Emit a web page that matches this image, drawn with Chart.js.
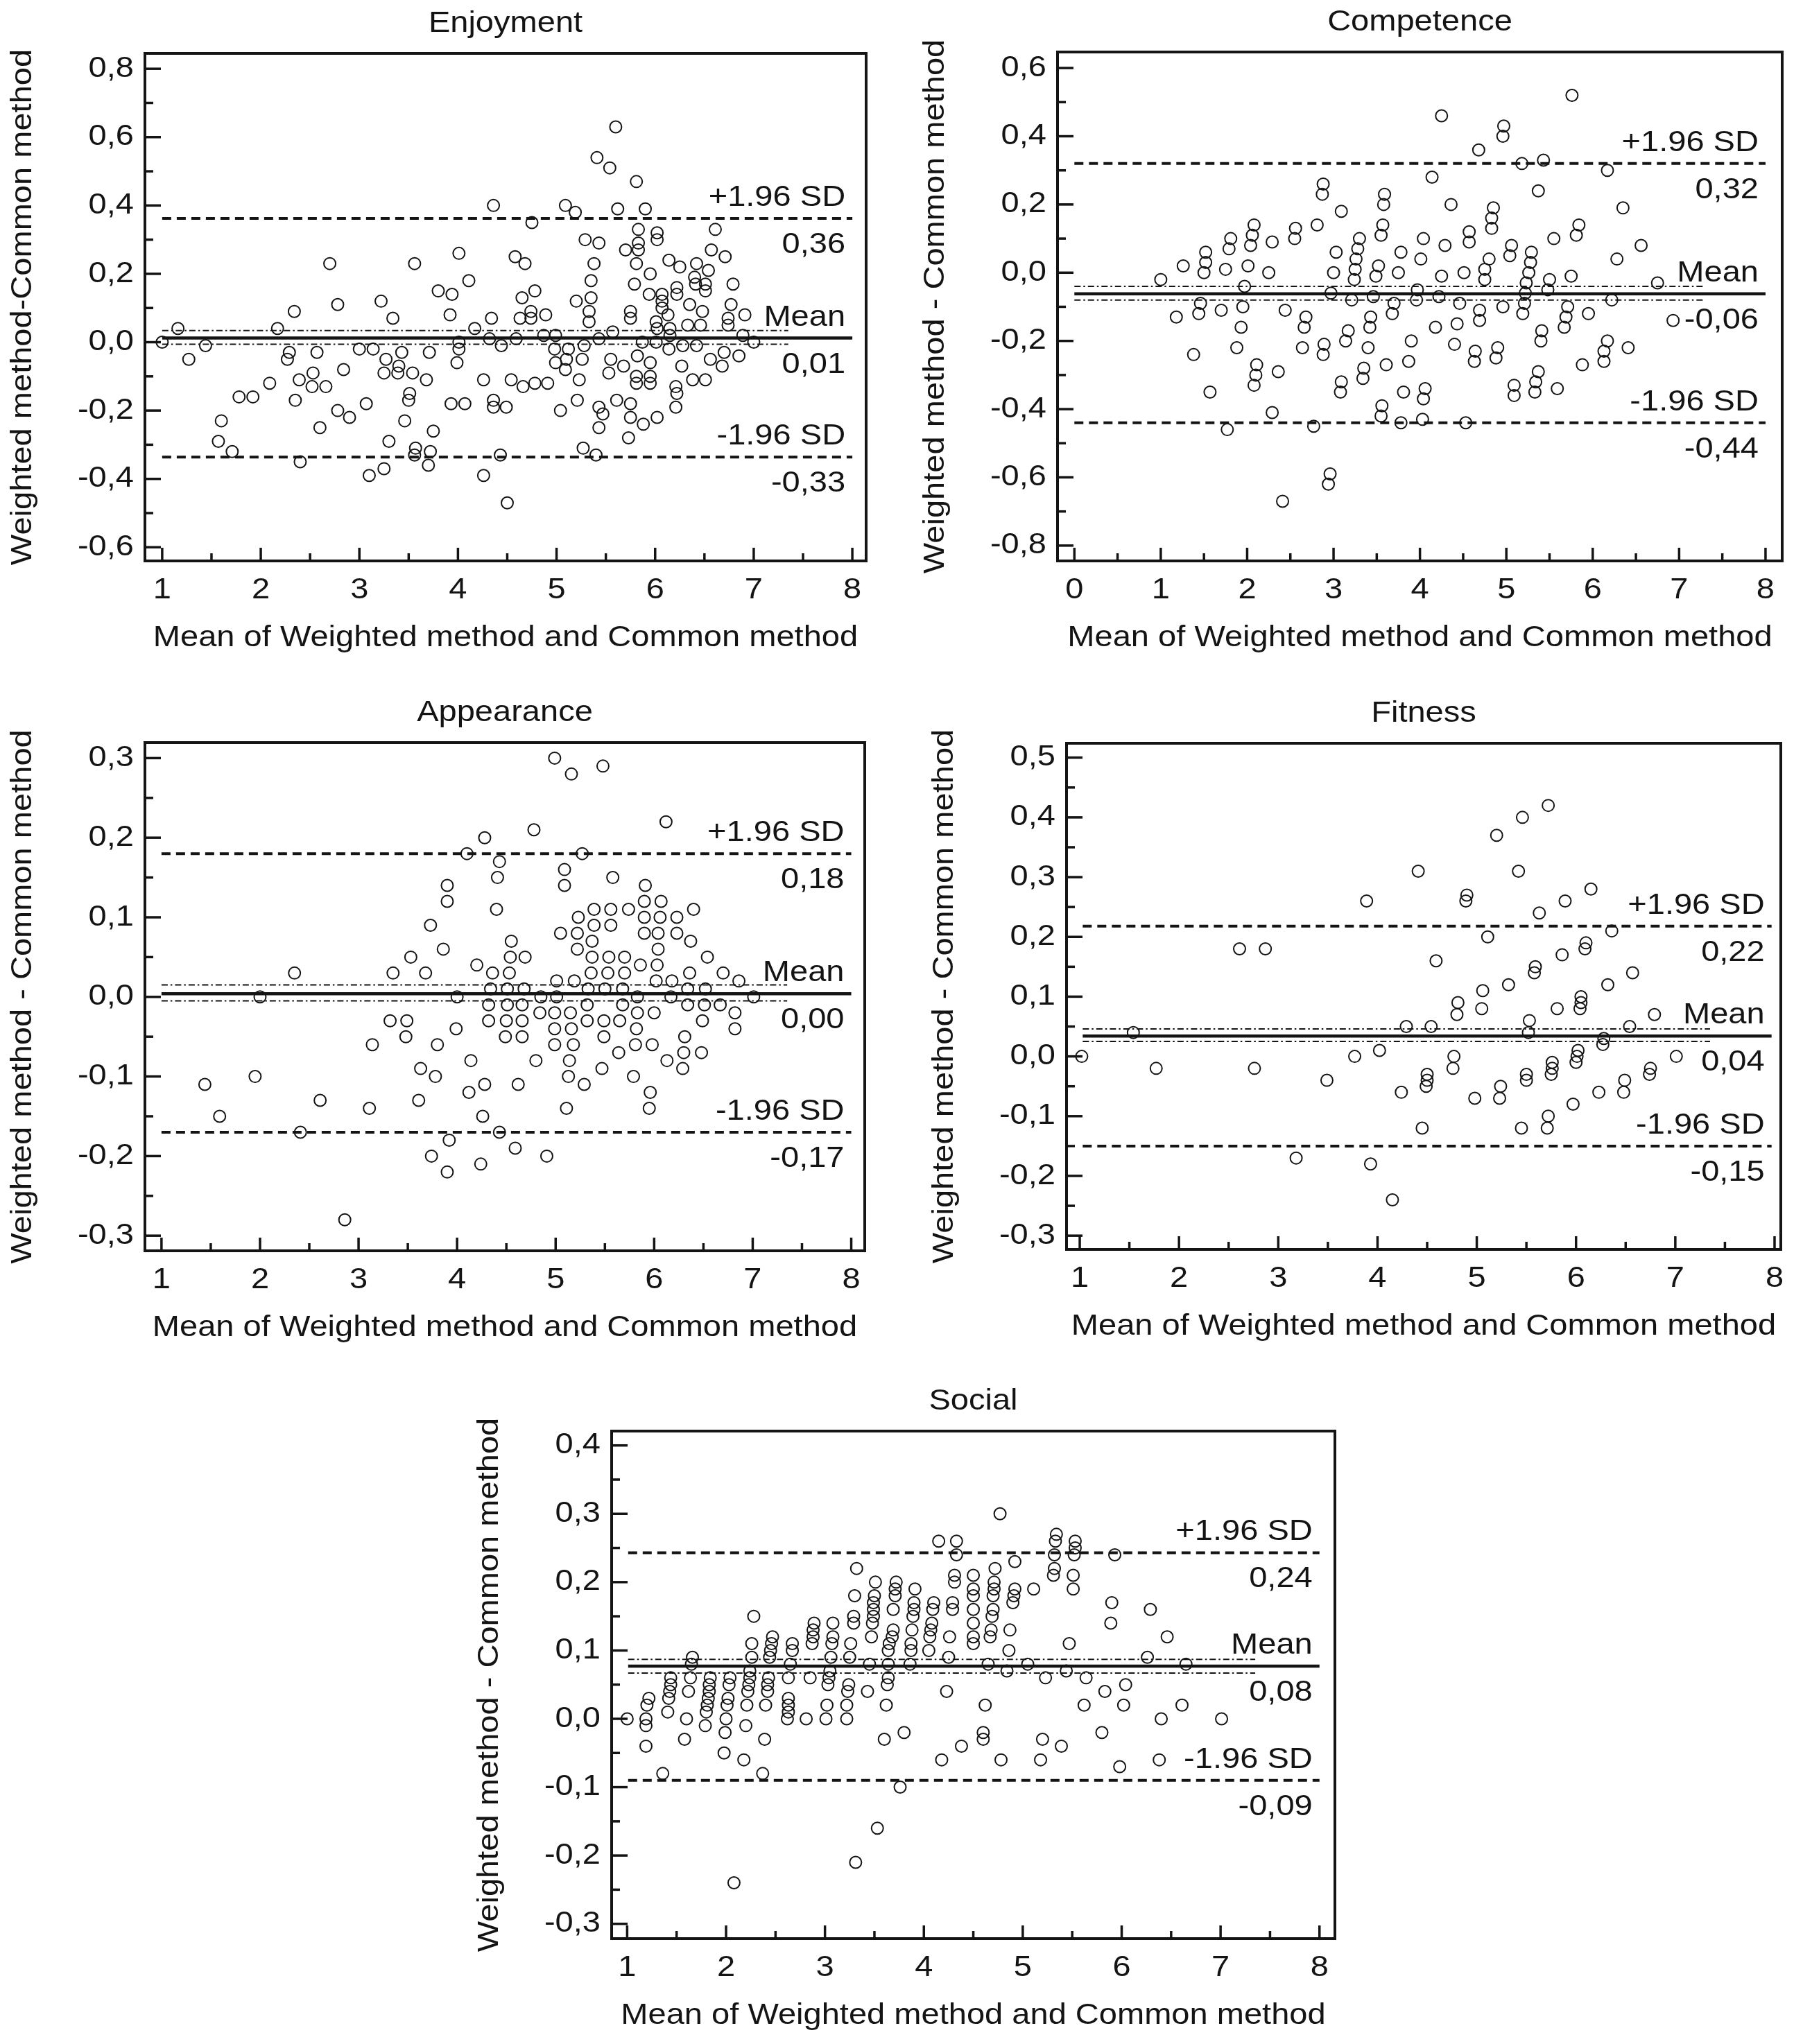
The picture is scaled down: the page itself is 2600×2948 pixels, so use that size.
<!DOCTYPE html>
<html>
<head>
<meta charset="utf-8">
<script src="https://cdn.jsdelivr.net/npm/chart.js@4.4.0/dist/chart.umd.min.js"></script>
<style>
  body { margin: 0; background: #fff; width: 2600px; height: 2948px; position: relative; overflow: hidden; }
  canvas { position: absolute; }
</style>
</head>
<body>
<canvas id="enjoyment"></canvas>
<canvas id="competence"></canvas>
<canvas id="appearance"></canvas>
<canvas id="fitness"></canvas>
<canvas id="social"></canvas>
<script>
// ---- data: x = mean of both methods, y = difference ----
const enjoymentMean = [1.00,1.16,1.27,1.44,1.60,1.57,1.71,1.78,1.92,2.09,2.17,2.27,2.29,2.34,2.39,2.35,2.40,2.53,2.52,2.57,2.60,2.66,2.70,2.78,2.78,2.84,2.90,3.00,3.07,3.10,3.14,3.22,3.25,3.25,3.27,3.30,3.34,3.39,3.40,3.43,3.46,3.51,3.50,3.54,3.56,3.57,3.56,3.68,3.71,3.75,3.72,3.70,3.80,3.92,3.94,3.93,3.99,4.01,4.01,4.01,4.07,4.11,4.17,4.26,4.26,4.32,4.34,4.36,4.36,4.36,4.43,4.44,4.49,4.50,4.54,4.58,4.59,4.63,4.65,4.66,4.68,
  4.75,4.78,4.74,4.74,4.89,4.78,4.91,4.87,4.99,4.98,4.99,5.09,5.19,5.12,5.10,5.09,5.04,5.20,5.26,5.23,5.21,5.28,5.29,5.27,5.35,5.33,5.33,5.35,5.38,5.41,5.43,5.43,5.43,5.47,5.43,5.40,5.54,5.60,5.62,5.57,5.55,5.53,5.68,5.61,5.70,5.75,5.75,5.75,5.75,5.81,5.83,5.83,5.83,5.81,5.79,5.82,5.81,5.81,5.73,5.88,5.90,5.95,5.94,5.95,5.95,5.95,5.87,6.02,6.02,6.01,6.02,6.01,6.02,6.07,6.07,6.07,6.14,6.13,6.15,6.15,6.14,6.22,6.22,6.25,6.21,6.22,6.21,6.27,6.28,6.33,6.35,6.40,6.41,6.42,6.38,6.42,6.46,6.48,6.51,6.51,6.54,6.57,6.61,6.51,6.56,6.68,6.70,6.71,6.74,6.74,6.77,6.79,6.85,6.89,6.91,7.00];
const enjoymentDiff = [0.00,0.04,-0.05,-0.01,-0.23,-0.29,-0.32,-0.16,-0.16,-0.12,0.04,-0.05,-0.03,0.09,-0.11,-0.17,-0.35,-0.09,-0.13,-0.03,-0.25,-0.13,0.23,-0.20,0.11,-0.08,-0.22,-0.02,-0.18,-0.39,-0.02,0.12,-0.09,-0.37,-0.05,-0.29,0.07,-0.09,-0.07,-0.03,-0.23,-0.15,-0.17,-0.09,0.23,-0.31,-0.33,-0.11,-0.03,-0.26,-0.32,-0.36,0.15,0.08,0.14,-0.18,-0.06,-0.02,0.00,0.26,-0.18,0.18,0.04,-0.11,-0.39,0.01,0.07,0.40,-0.17,-0.19,-0.33,-0.01,-0.19,-0.47,-0.11,0.25,0.01,0.07,0.13,-0.13,0.23,
  0.35,0.15,0.09,0.07,0.08,-0.12,-0.12,0.02,0.02,-0.02,-0.06,0.40,0.38,-0.02,-0.05,-0.08,-0.20,0.12,-0.05,-0.11,-0.17,-0.01,0.30,-0.31,0.13,0.06,0.09,0.18,0.23,0.54,0.29,0.01,-0.19,-0.21,-0.25,-0.33,0.51,0.63,0.39,0.03,-0.05,-0.09,-0.07,-0.17,0.27,0.09,0.07,-0.18,-0.22,0.47,0.33,0.29,0.27,0.23,0.17,-0.04,-0.10,-0.12,-0.28,-0.24,0.39,0.20,0.14,-0.06,-0.10,-0.12,0.00,0.32,0.30,0.06,0.04,0.00,-0.22,0.14,0.12,0.10,0.24,0.08,0.04,0.02,-0.02,0.14,0.16,0.22,-0.13,-0.15,-0.19,-0.07,-0.01,0.05,0.11,0.19,0.17,0.23,-0.11,-0.01,0.05,0.09,0.17,0.15,0.21,0.27,0.33,-0.11,-0.05,-0.07,-0.03,0.25,0.05,0.07,0.11,0.17,-0.04,0.02,0.08,0.00];
const enjoymentLimits = [0.362, 0.012, -0.336];   // +1.96 SD, mean, -1.96 SD
const enjoymentCI = [0.034, -0.006];
const enjoymentValues = ['0,36', '0,01', '-0,33'];

const competenceMean = [1.00,1.18,1.26,1.38,1.44,1.46,1.50,1.52,1.52,1.57,1.70,1.75,1.79,1.81,1.77,1.88,1.93,1.95,1.97,2.01,2.04,2.06,2.08,2.08,2.10,2.11,2.25,2.29,2.29,2.36,2.41,2.44,2.55,2.56,2.64,2.66,2.68,2.77,2.81,2.87,2.88,2.88,2.89,2.94,2.96,2.97,3.00,3.03,3.09,3.08,3.09,3.14,3.17,3.21,3.24,3.25,3.26,3.28,3.30,3.34,3.35,3.40,3.42,3.43,3.46,3.49,3.52,3.55,3.57,3.58,3.59,3.55,3.56,3.61,3.68,3.70,3.75,3.78,3.78,3.81,3.87,3.90,3.96,3.97,4.01,4.04,4.03,4.04,4.06,
  4.25,4.14,4.22,4.25,4.29,4.36,4.18,4.40,4.43,4.46,4.51,4.57,4.57,4.63,4.64,4.53,4.69,4.69,4.68,4.75,4.75,4.80,4.83,4.83,4.85,4.88,4.90,4.96,4.96,4.97,5.04,5.06,5.09,5.09,5.18,5.19,5.21,5.22,5.23,5.26,5.28,5.29,5.33,5.34,5.37,5.37,5.40,5.41,5.43,5.48,5.50,5.55,5.59,5.67,5.69,5.71,5.75,5.76,5.81,5.84,5.88,5.95,6.13,6.13,6.17,6.17,6.22,6.28,6.35,6.41,6.56,6.75,6.93];
const competenceDiff = [-0.02,-0.13,0.02,-0.24,-0.12,-0.09,0.00,0.03,0.06,-0.35,-0.11,0.01,0.07,0.10,-0.46,-0.22,-0.16,-0.10,-0.04,0.02,0.08,0.11,0.14,-0.33,-0.30,-0.27,0.00,0.09,-0.41,-0.29,-0.67,-0.11,0.10,0.13,-0.22,-0.16,-0.13,-0.45,0.14,0.23,0.26,-0.24,-0.21,-0.62,-0.59,-0.06,0.00,0.06,0.18,-0.35,-0.32,-0.20,-0.17,-0.08,-0.02,0.01,0.04,0.07,0.10,-0.31,-0.28,-0.22,-0.16,-0.13,-0.07,-0.01,0.02,0.11,0.14,0.20,0.23,-0.42,-0.39,-0.27,-0.12,-0.09,0.00,0.06,-0.44,-0.35,-0.26,-0.20,-0.08,-0.05,0.04,0.10,-0.43,-0.37,-0.34,
  0.46,0.28,-0.07,-0.01,0.08,0.20,-0.16,-0.21,-0.15,-0.09,0.00,0.09,0.12,-0.26,-0.23,-0.44,-0.14,-0.11,0.36,-0.02,0.01,0.04,0.13,0.16,0.19,-0.25,-0.22,-0.10,0.40,0.43,0.05,0.08,-0.36,-0.33,0.32,-0.12,-0.09,-0.06,-0.03,0.00,0.03,0.06,-0.35,-0.32,-0.29,0.24,-0.20,-0.17,0.33,-0.05,-0.02,0.10,-0.34,-0.16,-0.13,-0.10,-0.01,0.52,0.11,0.14,-0.27,-0.12,-0.26,-0.23,-0.20,0.30,-0.08,0.04,0.19,-0.22,0.08,-0.03,-0.14];
const competenceLimits = [0.32, -0.062, -0.44];
const competenceCI = [-0.04, -0.08];
const competenceValues = ['0,32', '-0,06', '-0,44'];

const appearanceMean = [1.44,1.59,1.95,2.00,2.35,2.41,2.61,2.86,3.11,3.14,3.32,3.35,3.48,3.49,3.53,3.61,3.63,3.68,3.73,3.74,3.78,3.80,3.86,3.90,3.90,3.90,3.92,3.99,4.00,4.10,4.12,4.14,4.20,4.24,4.26,4.28,4.28,4.32,4.32,4.34,4.36,4.40,4.41,4.43,4.43,4.49,4.50,4.51,4.51,4.53,4.54,4.55,4.59,4.62,4.66,4.66,4.66,4.68,4.69,
  4.99,5.16,5.48,6.12,4.78,5.27,5.09,5.09,5.58,5.91,5.90,6.07,5.23,5.39,5.56,5.74,5.90,6.06,6.23,6.40,5.05,5.22,5.39,5.56,5.90,6.04,6.23,6.37,5.22,5.37,6.04,5.37,5.54,5.70,6.54,5.36,5.53,5.70,5.86,6.03,6.36,6.70,5.01,5.19,6.02,6.18,6.86,5.33,5.50,5.68,6.34,6.52,4.85,5.01,5.83,6.17,7.01,5.32,5.68,6.34,6.51,6.67,4.84,4.99,5.15,5.83,6.00,6.82,5.32,5.49,5.65,6.49,4.99,5.16,5.82,6.82,5.49,6.31,4.99,5.18,5.81,5.98,5.64,6.30,6.48,4.80,5.14,6.13,5.47,6.29,5.13,5.79,5.29,5.96,5.11,5.95,4.91];
const appearanceDiff = [-0.11,-0.15,-0.10,0.00,0.03,-0.17,-0.13,-0.28,-0.14,-0.06,-0.03,0.03,-0.05,-0.03,0.05,-0.13,-0.09,0.03,0.09,-0.20,-0.10,-0.06,0.06,0.12,0.14,-0.22,-0.18,-0.04,0.00,0.18,-0.12,-0.08,0.04,-0.21,-0.15,0.20,-0.11,-0.03,-0.01,0.01,0.03,0.11,0.15,0.17,-0.17,-0.05,-0.03,-0.01,0.01,0.03,0.05,0.07,-0.19,-0.11,-0.05,-0.03,-0.01,0.01,0.05,
  0.30,0.28,0.29,0.22,0.21,0.18,0.16,0.14,0.15,0.14,0.12,0.12,0.10,0.11,0.11,0.11,0.10,0.10,0.10,0.11,0.08,0.08,0.09,0.09,0.08,0.08,0.08,0.07,0.06,0.07,0.06,0.05,0.05,0.05,0.05,0.03,0.03,0.03,0.04,0.04,0.03,0.03,0.02,0.02,0.02,0.02,0.02,0.01,0.01,0.01,0.01,0.01,0.00,0.00,0.00,0.00,0.00,-0.01,-0.01,-0.01,-0.01,-0.01,-0.02,-0.02,-0.02,-0.02,-0.02,-0.02,-0.03,-0.03,-0.03,-0.03,-0.04,-0.04,-0.04,-0.04,-0.05,-0.05,-0.06,-0.06,-0.06,-0.06,-0.07,-0.07,-0.07,-0.08,-0.08,-0.08,-0.09,-0.09,-0.10,-0.10,-0.11,-0.12,-0.14,-0.14,-0.20];
const appearanceLimits = [0.18, 0.004, -0.17];
const appearanceCI = [0.015, -0.005];
const appearanceValues = ['0,18', '0,00', '-0,17'];

const fitnessMean = [1.02,1.54,1.77,2.61,2.87,2.76,3.18,3.49,3.77,3.89,3.93,4.02,4.15,4.24,4.29,4.41,4.45,4.49,4.50,4.50,4.54,4.59,4.76,4.77,4.80,4.81,4.89,4.90,4.98,5.05,5.06,5.11,5.20,5.23,5.24,5.32,5.42,5.46,5.45,5.50,5.50,5.52,5.53,5.58,5.59,5.63,5.71,5.72,5.72,5.75,5.76,5.76,5.81,5.86,5.89,5.97,6.00,6.01,6.02,6.04,6.05,6.05,6.09,6.10,6.15,6.23,6.27,6.28,6.32,6.36,6.48,6.49,6.54,6.57,6.74,6.75,6.79,7.01];
const fitnessDiff = [0.00,0.04,-0.02,0.18,0.18,-0.02,-0.17,-0.04,0.00,0.26,-0.18,0.01,-0.24,-0.06,0.05,0.31,-0.12,-0.05,-0.04,-0.03,0.05,0.16,-0.02,0.00,0.07,0.09,0.26,0.27,-0.07,0.08,0.11,0.20,0.37,-0.07,-0.05,0.12,0.31,0.40,-0.12,-0.04,-0.03,0.04,0.06,0.14,0.15,0.24,-0.12,-0.10,0.42,-0.03,-0.02,-0.01,0.08,0.17,0.26,-0.08,-0.01,0.00,0.01,0.08,0.09,0.10,0.18,0.19,0.28,-0.06,0.02,0.03,0.12,0.21,-0.06,-0.04,0.05,0.14,-0.03,-0.02,0.07,0.00];
const fitnessLimits = [0.218, 0.034, -0.15];
const fitnessCI = [0.046, 0.025];
const fitnessValues = ['0,22', '0,04', '-0,15'];

const socialMean = [1.00,1.19,1.19,1.19,1.20,1.22,1.36,1.41,1.42,1.43,1.44,1.44,1.58,1.60,1.62,1.64,1.65,1.66,1.79,1.80,1.81,1.82,1.83,1.83,1.84,1.98,1.99,2.00,2.01,2.02,2.03,2.04,2.08,2.18,2.20,2.21,2.22,2.23,2.24,2.24,2.26,2.26,2.28,2.37,2.39,2.40,2.42,2.42,2.43,2.44,2.45,2.46,2.47,2.62,2.63,2.63,2.63,2.63,2.65,2.67,2.67,2.81,2.85,2.87,2.88,2.88,2.89,3.01,3.02,3.03,3.04,3.05,3.06,3.07,3.08,3.08,3.22,3.22,3.23,3.24,3.25,3.26,3.29,3.29,3.30,3.31,3.32,3.43,3.45,3.47,3.48,3.49,3.49,3.49,3.50,3.51,3.53,3.60,3.62,3.63,3.64,3.64,3.64,3.65,3.68,3.69,3.69,3.71,3.71,3.72,3.76,3.80,3.86,3.87,3.87,3.88,3.89,3.90,3.90,3.91,4.05,4.06,4.07,4.08,4.09,4.10,4.15,4.18,4.23,4.25,4.26,4.29,4.29,4.31,4.31,4.33,4.33,4.38,4.50,4.50,4.50,4.50,4.50,4.50,4.50,
  4.65,4.62,4.60,4.60,4.67,4.68,4.69,4.70,4.70,4.71,4.71,4.72,4.77,4.78,4.84,4.86,4.87,4.90,4.91,4.92,4.92,5.05,5.11,5.18,5.20,5.23,5.31,5.32,5.32,5.33,5.34,5.39,5.44,5.47,5.51,5.51,5.52,5.53,5.53,5.62,5.64,5.80,5.83,5.89,5.90,5.93,5.98,6.02,6.04,6.26,6.29,6.38,6.40,6.46,6.61,6.65,7.01];
const socialDiff = [0.00,-0.04,-0.01,0.00,0.02,0.03,-0.08,0.01,0.03,0.04,0.05,0.06,-0.03,0.00,0.04,0.06,0.08,0.09,-0.01,0.01,0.02,0.03,0.04,0.05,0.06,-0.05,-0.02,0.00,0.02,0.03,0.05,0.06,-0.24,-0.06,-0.01,0.02,0.04,0.05,0.06,0.07,0.09,0.11,0.15,-0.08,-0.03,0.02,0.04,0.05,0.06,0.09,0.10,0.11,0.12,0.00,0.01,0.02,0.03,0.06,0.08,0.10,0.11,0.00,0.06,0.11,0.12,0.13,0.14,0.00,0.02,0.05,0.06,0.07,0.09,0.11,0.12,0.14,0.00,0.02,0.04,0.05,0.09,0.11,0.14,0.15,0.18,-0.21,0.22,0.04,0.08,0.12,0.14,0.15,0.16,0.17,0.18,0.20,-0.16,-0.03,0.02,0.05,0.06,0.08,0.10,0.11,0.12,0.13,0.16,0.18,0.19,0.20,-0.10,-0.02,0.08,0.10,0.11,0.13,0.15,0.16,0.17,0.19,0.10,0.12,0.13,0.14,0.16,0.17,0.26,-0.06,0.04,0.09,0.12,0.16,0.17,0.20,0.21,0.26,0.24,-0.04,0.21,0.19,0.18,0.16,0.14,0.12,0.11,
  0.08,0.02,-0.02,-0.03,0.12,0.13,0.15,0.16,0.18,0.19,0.20,0.22,0.30,-0.06,0.07,0.10,0.13,0.17,0.18,0.19,0.23,0.08,0.19,-0.06,-0.03,0.06,0.21,0.22,0.24,0.26,0.27,-0.04,0.07,0.11,0.19,0.21,0.24,0.25,0.26,0.02,0.06,-0.02,0.04,0.14,0.17,0.24,-0.07,0.02,0.05,0.09,0.16,-0.06,0.00,0.12,0.02,0.08,0.00];
const socialLimits = [0.243, 0.077, -0.09];
const socialCI = [0.087, 0.067];
const socialValues = ['0,24', '0,08', '-0,09'];

const lineNames = ['+1.96 SD', 'Mean', '-1.96 SD'];
const xTitle = 'Mean of Weighted method and Common method';

const INK = '#141414';
const FONT_PX = 42;
const STRETCH = 1.12;

const panels = [
  { id: 'enjoyment', title: 'Enjoyment', yTitle: 'Weighted method-Common method',
    xs: enjoymentMean, ys: enjoymentDiff, limits: enjoymentLimits, ci: enjoymentCI, values: enjoymentValues,
    frame: [209, 77, 1249, 809], xr: [0.825, 8.14], yr: [-0.64, 0.845], yStep: 0.2, from: 1, to: 8, ciTo: 7.35 },
  { id: 'competence', title: 'Competence', yTitle: 'Weighted method - Common method',
    xs: competenceMean, ys: competenceDiff, limits: competenceLimits, ci: competenceCI, values: competenceValues,
    frame: [1525, 75, 2570, 809], xr: [-0.195, 8.193], yr: [-0.845, 0.647], yStep: 0.2, from: 0, to: 8, ciTo: 7.29 },
  { id: 'appearance', title: 'Appearance', yTitle: 'Weighted method - Common method',
    xs: appearanceMean, ys: appearanceDiff, limits: appearanceLimits, ci: appearanceCI, values: appearanceValues,
    frame: [209, 1071, 1247, 1804], xr: [0.832, 8.137], yr: [-0.319, 0.3195], yStep: 0.1, from: 1, to: 8, ciTo: 7.35 },
  { id: 'fitness', title: 'Fitness', yTitle: 'Weighted method - Common method',
    xs: fitnessMean, ys: fitnessDiff, limits: fitnessLimits, ci: fitnessCI, values: fitnessValues,
    frame: [1538, 1072, 2568, 1802], xr: [0.867, 8.063], yr: [-0.323, 0.524], yStep: 0.1, from: 1.03, to: 7.97, ciTo: 7.35 },
  { id: 'social', title: 'Social', yTitle: 'Weighted method - Common method',
    xs: socialMean, ys: socialDiff, limits: socialLimits, ci: socialCI, values: socialValues,
    frame: [882, 2064, 1925, 2796], xr: [0.843, 8.156], yr: [-0.3216, 0.421], yStep: 0.1, from: 1.01, to: 8, ciTo: 7.35 }
];

const PAD = { left: 230, top: 80, right: 30, bottom: 160 };

function putText(ctx, text, x, y, align, baseline, vertical) {
  ctx.save();
  ctx.translate(x, y);
  if (vertical) ctx.rotate(-Math.PI / 2);
  ctx.scale(STRETCH, 1);
  ctx.textAlign = align;
  ctx.textBaseline = baseline;
  ctx.fillText(text, 0, 0);
  ctx.restore();
}

function comma(v, digits) {
  if (Math.abs(v) < 1e-9) v = 0;
  return v.toFixed(digits).replace('.', ',');
}

// frame, inward ticks, tick labels, titles and the limit labels
const decorPlugin = {
  id: 'decor',
  afterDraw(chart) {
    const p = chart.options.plugins.decor.panel;
    const { ctx, chartArea: a } = chart;
    const xs = chart.scales.x, ys = chart.scales.y;
    ctx.save();
    ctx.strokeStyle = INK;
    ctx.fillStyle = INK;
    ctx.lineWidth = 4;
    ctx.strokeRect(a.left, a.top, a.right - a.left, a.bottom - a.top);

    ctx.lineWidth = 3.5;
    ctx.font = FONT_PX + 'px "Liberation Sans", Arial, sans-serif';
    const yv = ys.ticks.map(t => t.value);
    yv.forEach((v, i) => {
      const py = ys.getPixelForValue(v);
      ctx.beginPath(); ctx.moveTo(a.left, py); ctx.lineTo(a.left + 23, py); ctx.stroke();
      putText(ctx, comma(v, 1), a.left - 16, py, 'right', 'middle');
      if (i > 0) {
        const pm = ys.getPixelForValue((v + yv[i - 1]) / 2);
        ctx.beginPath(); ctx.moveTo(a.left, pm); ctx.lineTo(a.left + 12, pm); ctx.stroke();
      }
    });
    const xv = xs.ticks.map(t => t.value);
    xv.forEach((v, i) => {
      const px = xs.getPixelForValue(v);
      ctx.beginPath(); ctx.moveTo(px, a.bottom); ctx.lineTo(px, a.bottom - 19); ctx.stroke();
      putText(ctx, String(Math.round(v)), px, a.bottom + 42, 'center', 'middle');
      if (i > 0) {
        const pm = xs.getPixelForValue((v + xv[i - 1]) / 2);
        ctx.beginPath(); ctx.moveTo(pm, a.bottom); ctx.lineTo(pm, a.bottom - 11); ctx.stroke();
      }
    });

    const cx = (a.left + a.right) / 2, cy = (a.top + a.bottom) / 2;
    putText(ctx, p.title, cx, a.top - 43, 'center', 'middle');
    putText(ctx, xTitle, cx, a.bottom + 111, 'center', 'middle');
    putText(ctx, p.yTitle, a.left - 176, cy, 'center', 'middle', true);

    const rx = xs.getPixelForValue(p.to) - 10;
    p.limits.forEach((v, i) => {
      const py = ys.getPixelForValue(v);
      putText(ctx, lineNames[i], rx, py - 18, 'right', 'alphabetic');
      putText(ctx, p.values[i], rx, py + 50, 'right', 'alphabetic');
    });
    ctx.restore();
  }
};

function hline(y, from, to, dash, width) {
  return {
    type: 'line',
    data: [{ x: from, y: y }, { x: to, y: y }],
    borderColor: INK,
    borderWidth: width,
    borderDash: dash,
    pointRadius: 0,
    showLine: true,
    fill: false
  };
}

panels.forEach(p => {
  const canvas = document.getElementById(p.id);
  const [l, t, r, b] = p.frame;
  canvas.width = (r - l) + PAD.left + PAD.right;
  canvas.height = (b - t) + PAD.top + PAD.bottom;
  canvas.style.left = (l - PAD.left) + 'px';
  canvas.style.top = (t - PAD.top) + 'px';

  const points = p.xs.map((x, i) => ({ x: x, y: p.ys[i] }));
  new Chart(canvas.getContext('2d'), {
    type: 'scatter',
    data: {
      datasets: [
        {
          data: points,
          pointRadius: 8.5,
          pointBorderWidth: 2,
          borderColor: INK,
          backgroundColor: 'rgba(0,0,0,0)',
          pointStyle: 'circle'
        },
        hline(p.limits[0], p.from, p.to, [13, 8], 4),
        hline(p.limits[2], p.from, p.to, [13, 8], 4),
        hline(p.ci[0], p.from, p.ciTo, [9, 4, 2.5, 4], 2),
        hline(p.ci[1], p.from, p.ciTo, [9, 4, 2.5, 4], 2),
        hline(p.limits[1], p.from, p.to, [], 4.5)
      ]
    },
    options: {
      responsive: false,
      animation: false,
      devicePixelRatio: 1,
      events: [],
      layout: { padding: PAD },
      plugins: { legend: { display: false }, tooltip: { enabled: false }, decor: { panel: p } },
      scales: {
        x: { type: 'linear', display: false, min: p.xr[0], max: p.xr[1], ticks: { stepSize: 1, includeBounds: false } },
        y: { type: 'linear', display: false, min: p.yr[0], max: p.yr[1], ticks: { stepSize: p.yStep, includeBounds: false } }
      }
    },
    plugins: [decorPlugin]
  });
});
</script>
</body>
</html>
